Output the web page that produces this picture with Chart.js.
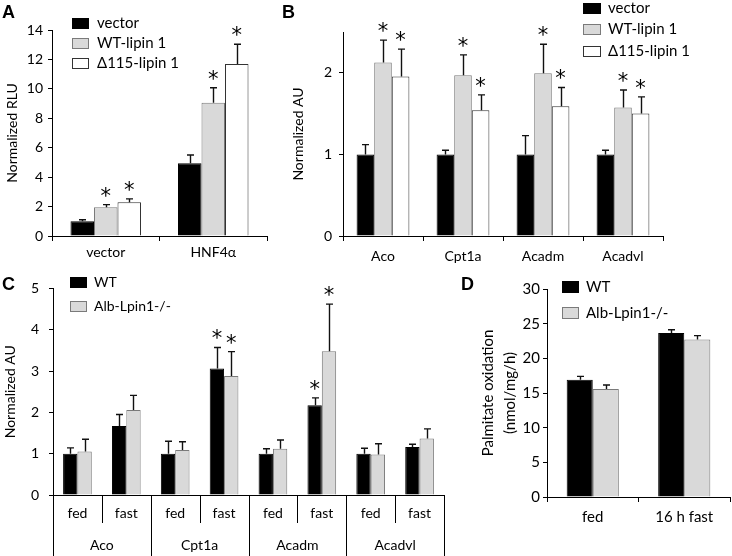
<!DOCTYPE html>
<html><head><meta charset="utf-8">
<script src="https://cdn.jsdelivr.net/npm/chart.js@4/dist/chart.umd.min.js"></script>
<style>
html,body{margin:0;padding:0;background:#fff;}
#wrap{position:relative;width:732px;height:556px;overflow:hidden;background:#fff;}
canvas{position:absolute;}
.lab{position:absolute;font:bold 18px "Liberation Sans",Arial,sans-serif;color:#000;line-height:18px;}
</style></head><body>
<div id="wrap">
<canvas id="cA" width="280" height="270" style="left:0px;top:0px"></canvas>
<canvas id="cB" width="452" height="270" style="left:280px;top:0px"></canvas>
<canvas id="cC" width="460" height="286" style="left:0px;top:270px"></canvas>
<canvas id="cD" width="272" height="286" style="left:460px;top:270px"></canvas>
<div class="lab" style="left:2px;top:3px">A</div>
<div class="lab" style="left:282px;top:3px">B</div>
<div class="lab" style="left:2px;top:275px">C</div>
<div class="lab" style="left:461px;top:275px">D</div>
</div>
<script>
// ---------- Panel A ----------
const aCategories = ['vector', 'HNF4\u03b1'];
const aSeries = ['vector', 'WT-lipin 1', '\u0394115-lipin 1'];
const aVector = [1.0, 4.94];
const aWT = [1.95, 9.06];
const aD115 = [2.29, 11.69];
const aVectorErr = [0.10, 0.56];
const aWTErr = [0.18, 1.02];
const aD115Err = [0.23, 1.34];
const aVectorSig = [false, false];
const aWTSig = [true, true];
const aD115Sig = [true, true];

// ---------- Panel B ----------
const bCategories = ['Aco', 'Cpt1a', 'Acadm', 'Acadvl'];
const bSeries = ['vector', 'WT-lipin 1', '\u0394115-lipin 1'];
const bVector = [1.0, 1.0, 1.0, 1.0];
const bWT = [2.125, 1.97, 1.995, 1.575];
const bD115 = [1.955, 1.54, 1.59, 1.50];
const bVectorErr = [0.12, 0.05, 0.23, 0.05];
const bWTErr = [0.275, 0.25, 0.355, 0.215];
const bD115Err = [0.335, 0.19, 0.23, 0.205];
const bVectorSig = [false, false, false, false];
const bWTSig = [true, true, true, true];
const bD115Sig = [true, true, true, true];

// ---------- Panel C ----------
const cGenes = ['Aco', 'Cpt1a', 'Acadm', 'Acadvl'];
const cConditions = ['fed', 'fast'];
const cSeries = ['WT', 'Alb-Lpin1-/-'];
const cWT = [1.0, 1.67, 1.0, 3.06, 1.0, 2.17, 1.0, 1.16];
const cKO = [1.055, 2.055, 1.09, 2.88, 1.12, 3.48, 0.98, 1.37];
const cWTErr = [0.14, 0.28, 0.30, 0.51, 0.12, 0.18, 0.13, 0.07];
const cKOErr = [0.295, 0.355, 0.20, 0.59, 0.21, 1.14, 0.26, 0.23];
const cWTSig = [false, false, false, true, false, true, false, false];
const cKOSig = [false, false, false, true, false, true, false, false];

// ---------- Panel D ----------
const dCategories = ['fed', '16 h fast'];
const dSeries = ['WT', 'Alb-Lpin1-/-'];
const dWT = [16.9, 23.65];
const dKO = [15.58, 22.7];
const dWTErr = [0.5, 0.48];
const dKOErr = [0.57, 0.57];
const dWTSig = [false, false];
const dKOSig = [false, false];

const BLACK = '#000000', GRAY = '#d9d9d9', GRAYB = '#7a7a7a', WHITE = '#ffffff', WHITEB = '#333333';

Chart.defaults.font.family = 'Lato, "Open Sans", sans-serif';
Chart.defaults.font.size = 14;
Chart.defaults.color = '#000';
Chart.defaults.animation = false;

const errorBarPlugin = {
  id: 'errbars',
  afterDatasetsDraw(chart, args, opts) {
    const ctx = chart.ctx, y = chart.scales.y;
    chart.data.datasets.forEach((ds, di) => {
      const meta = chart.getDatasetMeta(di);
      meta.data.forEach((bar, i) => {
        const v = ds.data[i], e = ds.errors[i];
        const yTop = y.getPixelForValue(v), yErr = y.getPixelForValue(v + e);
        const x = Math.round(bar.x) + 0.5;
        ctx.save();
        ctx.strokeStyle = '#111'; ctx.lineWidth = 1.4;
        ctx.beginPath();
        ctx.moveTo(x, yTop); ctx.lineTo(x, yErr);
        ctx.moveTo(x - opts.cap / 2, yErr); ctx.lineTo(x + opts.cap / 2, yErr);
        ctx.stroke();
        if (ds.sig && ds.sig[i]) {
          ctx.fillStyle = '#000';
          ctx.font = opts.starFont;
          ctx.textAlign = 'center'; ctx.textBaseline = 'alphabetic';
          ctx.fillText('*', bar.x, yErr - opts.starGap);
        }
        ctx.restore();
      });
    });
  }
};

const boxLegend = {
  id: 'boxLegend',
  afterDraw(chart, args, o) {
    const ctx = chart.ctx;
    ctx.save();
    chart.data.datasets.forEach((ds, i) => {
      const yc = o.y + i * o.gap;
      ctx.fillStyle = ds.backgroundColor;
      ctx.fillRect(o.x, Math.round(yc - o.h / 2), o.w, o.h);
      ctx.strokeStyle = ds.borderColor; ctx.lineWidth = 1;
      ctx.strokeRect(o.x + 0.5, Math.round(yc - o.h / 2) + 0.5, o.w - 1, o.h - 1);
      ctx.fillStyle = '#000'; ctx.font = o.font;
      ctx.textAlign = 'left'; ctx.textBaseline = 'middle';
      ctx.fillText(ds.label, o.x + o.w + o.pad, yc);
    });
    ctx.restore();
  }
};

const groupAxis = {
  id: 'groupAxis',
  afterDraw(chart, args, o) {
    const sx = chart.scales.x, ctx = chart.ctx;
    const n = sx.ticks.length, per = o.per;
    const bounds = [];
    for (let i = 0; i <= n; i++) {
      let px;
      if (i === 0) px = sx.left;
      else if (i === n) px = sx.right;
      else px = (sx.getPixelForValue(i - 1) + sx.getPixelForValue(i)) / 2;
      bounds.push(px);
    }
    ctx.save();
    ctx.strokeStyle = '#000'; ctx.lineWidth = 1;
    bounds.forEach((px, i) => {
      const long = i % per === 0;
      const xx = Math.round(px) + 0.5;
      ctx.beginPath();
      ctx.moveTo(xx, sx.top);
      ctx.lineTo(xx, long ? chart.height : sx.top + o.shortLen);
      ctx.stroke();
    });
    ctx.fillStyle = '#000'; ctx.font = o.font;
    ctx.textAlign = 'center'; ctx.textBaseline = 'middle';
    o.groups.forEach((g, gi) => {
      const cx = (bounds[gi * per] + bounds[(gi + 1) * per]) / 2;
      ctx.fillText(g, cx, sx.top + o.groupY);
    });
    ctx.restore();
  }
};

function yAxis(min, max, step, width, tickPad, title, titlePad, titleSize, lh) {
  return {
    min: min, max: max,
    afterFit: s => { s.width = width; },
    ticks: { stepSize: step, padding: tickPad, includeBounds: false, font: { size: titleSize } },
    grid: { drawOnChartArea: false, tickLength: 4, color: '#000' },
    border: { color: '#000', width: 1 },
    title: { display: true, text: title, padding: { top: titlePad, bottom: 0 }, font: { size: titleSize, lineHeight: lh || 1.2 } }
  };
}
function xAxis(height, tickPad, size) {
  return {
    afterFit: s => { s.height = height; },
    grid: { offset: true, drawOnChartArea: false, tickLength: 5, color: '#000' },
    border: { color: '#000', width: 1 },
    ticks: { padding: tickPad, font: { size: size }, maxRotation: 0, autoSkip: false }
  };
}
function ds(label, data, err, sig, bg, bc) {
  return { label: label, data: data, errors: err, sig: sig, backgroundColor: bg, borderColor: bc, borderWidth: 1 };
}
const common = (pad, catPct) => ({
  responsive: false, devicePixelRatio: 1, animation: false,
  layout: { padding: pad },
  datasets: { bar: { categoryPercentage: catPct, barPercentage: 1 } },
  events: []
});
const STAR = { cap: 7, starFont: '21px "DejaVu Sans"', starGap: 2 };

// Panel A
(() => {
  const o = common({ left: 0, top: 30, right: 13, bottom: 0 }, 0.656);
  o.plugins = { legend: { display: false }, tooltip: { enabled: false },
    boxLegend: { x: 72, y: 23, gap: 20, w: 17, h: 11, pad: 8, font: '15px Lato' },
    errbars: STAR };
  o.scales = { x: xAxis(34, 3, 14), y: yAxis(0, 14, 2, 52, 5, 'Normalized RLU', 4, 14) };
  new Chart(document.getElementById('cA'), {
    type: 'bar',
    data: { labels: aCategories, datasets: [
      ds(aSeries[0], aVector, aVectorErr, aVectorSig, BLACK, BLACK),
      ds(aSeries[1], aWT, aWTErr, aWTSig, GRAY, GRAYB),
      ds(aSeries[2], aD115, aD115Err, aD115Sig, WHITE, WHITEB)
    ] },
    options: o, plugins: [errorBarPlugin, boxLegend]
  });
})();

// Panel B
(() => {
  const o = common({ left: 0, top: 32, right: 69, bottom: 0 }, 0.66);
  o.plugins = { legend: { display: false }, tooltip: { enabled: false },
    boxLegend: { x: 303, y: 8, gap: 21.5, w: 18, h: 11, pad: 7, font: '15px Lato' },
    errbars: STAR };
  o.scales = { x: xAxis(34, 7, 14), y: yAxis(0, 2.5, 1, 63, 7, 'Normalized AU', 10, 14) };
  new Chart(document.getElementById('cB'), {
    type: 'bar',
    data: { labels: bCategories, datasets: [
      ds(bSeries[0], bVector, bVectorErr, bVectorSig, BLACK, BLACK),
      ds(bSeries[1], bWT, bWTErr, bWTSig, GRAY, GRAYB),
      ds(bSeries[2], bD115, bD115Err, bD115Sig, WHITE, WHITEB)
    ] },
    options: o, plugins: [errorBarPlugin, boxLegend]
  });
})();

// Panel C
(() => {
  const labels = [];
  cGenes.forEach(() => cConditions.forEach(c => labels.push(c)));
  const o = common({ left: 0, top: 15, right: 16, bottom: 0 }, 0.587);
  o.plugins = { legend: { display: false }, tooltip: { enabled: false },
    boxLegend: { x: 70, y: 12, gap: 24, w: 17, h: 11, pad: 7, font: '14px Lato' },
    errbars: STAR,
    groupAxis: { per: cConditions.length, groups: cGenes, shortLen: 28, groupY: 50, font: '14px Lato' } };
  o.scales = {
    x: { afterFit: s => { s.height = 61; },
         grid: { display: false, drawTicks: false, tickLength: 0 },
         border: { display: true, color: '#000', width: 1 },
         ticks: { padding: 10, font: { size: 14 }, maxRotation: 0, autoSkip: false } },
    y: yAxis(0, 5, 1, 53, 10, 'Normalized AU', 2, 14)
  };
  new Chart(document.getElementById('cC'), {
    type: 'bar',
    data: { labels: labels, datasets: [
      ds(cSeries[0], cWT, cWTErr, cWTSig, BLACK, BLACK),
      ds(cSeries[1], cKO, cKOErr, cKOSig, GRAY, GRAYB)
    ] },
    options: o, plugins: [errorBarPlugin, boxLegend, groupAxis]
  });
})();

// Panel D
(() => {
  const o = common({ left: 0, top: 19, right: 2, bottom: 0 }, 0.57);
  o.plugins = { legend: { display: false }, tooltip: { enabled: false },
    boxLegend: { x: 102, y: 17, gap: 26, w: 17, h: 12, pad: 7, font: '15px Lato' },
    errbars: STAR };
  o.scales = { x: xAxis(59, 6, 15),
    y: yAxis(0, 30, 5, 87, 3, ['Palmitate oxidation', '(nmol/mg/h)'], 17, 15, 1.47) };
  new Chart(document.getElementById('cD'), {
    type: 'bar',
    data: { labels: dCategories, datasets: [
      ds(dSeries[0], dWT, dWTErr, dWTSig, BLACK, BLACK),
      ds(dSeries[1], dKO, dKOErr, dKOSig, GRAY, GRAYB)
    ] },
    options: o, plugins: [errorBarPlugin, boxLegend]
  });
})();
</script>
</body></html>
